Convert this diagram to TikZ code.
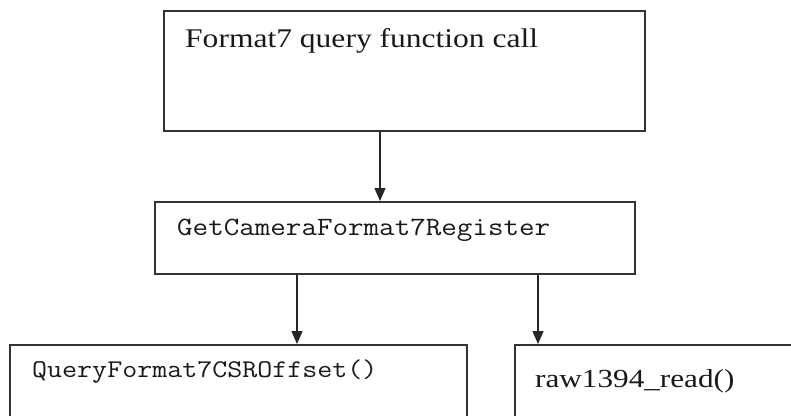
\documentclass[tikz,border=0pt]{standalone}
\usepackage{fontspec}
\setmainfont{Liberation Serif}
\usetikzlibrary{arrows.meta}
\begin{document}
\begin{tikzpicture}[x=1pt,y=-1pt,
  box/.style={draw=black!80, line width=1.6pt, inner sep=0pt, anchor=north west},
  arr/.style={draw=black!85, line width=1.4pt, -{Triangle[width=11pt,length=13pt]}},
  lbl/.style={anchor=base west, inner sep=0pt, text=black!90}]
\useasboundingbox (0,0) rectangle (791,415);
\clip (0,0) rectangle (791,415);
\fill[white] (0,0) rectangle (791,415);
% boxes
\node[box, minimum width=481pt, minimum height=120pt] (top) at (163,10) {};
\node[box, minimum width=480pt, minimum height=72pt] (mid) at (154,201) {};
\node[box, minimum width=457pt, minimum height=90pt] (bl) at (9,344) {};
\node[box, minimum width=300pt, minimum height=90pt] (br) at (514,344) {};
% texts
\node[lbl, font=\fontsize{27}{30}\selectfont] (ttop) at (185,47) {\scalebox{1.168}[1]{Format7 query function call}};
\node[lbl, font=\ttfamily\fontsize{26.4}{30}\selectfont] (tmid) at (177,235) {\scalebox{1.143}[1]{GetCameraFormat7Register}};
\node[lbl, font=\ttfamily\fontsize{25.5}{30}\selectfont] (tbl) at (32,377) {\scalebox{1.143}[1]{QueryFormat7CSROffset()}};
\node[lbl, font=\fontsize{26}{30}\selectfont] (tbr) at (535,387) {\scalebox{1.2}[1]{raw1394\_read()}};
% connector columns
\coordinate (c1) at (380,0);
\coordinate (c2) at (297,0);
\coordinate (c3) at (538,0);
\draw[arr] (top.south -| c1) -- (mid.north -| c1);
\draw[arr] (mid.south -| c2) -- (bl.north -| c2);
\draw[arr] (mid.south -| c3) -- (br.north -| c3);
\end{tikzpicture}
\end{document}
